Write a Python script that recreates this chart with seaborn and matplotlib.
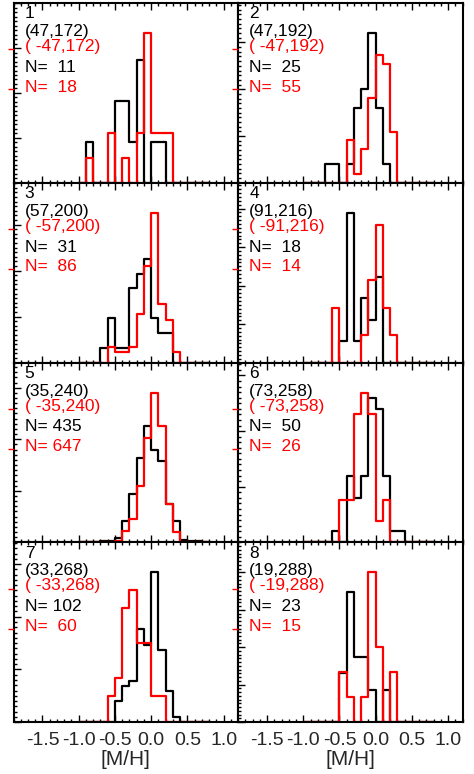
import matplotlib
matplotlib.use("Agg")
import matplotlib.pyplot as plt
import numpy as np
import pandas as pd
import seaborn as sns
from matplotlib.ticker import MultipleLocator

# bin centres of the [M/H] histograms (bin width 0.1 dex)
bin_centers = [-0.95, -0.85, -0.75, -0.65, -0.55, -0.45, -0.35, -0.25, -0.15,
               -0.05, 0.05, 0.15, 0.25, 0.35, 0.45, 0.55, 0.65, 0.75]

panel_ids = ["1", "2", "3", "4", "5", "6", "7", "8"]
coords_black = ["(47,172)", "(47,192)", "(57,200)", "(91,216)",
                "(35,240)", "(73,258)", "(33,268)", "(19,288)"]
coords_red = ["( -47,172)", "( -47,192)", "( -57,200)", "( -91,216)",
              "( -35,240)", "( -73,258)", "( -33,268)", "( -19,288)"]

# counts per bin, black (positive l) and red (negative l) fields
counts_black = [
    [0, 1, 0, 0, 0, 2, 2, 1, 3, 0, 1, 1, 0, 0, 0, 0, 0, 0],
    [0, 0, 0, 1, 1, 0, 1, 4, 5, 8, 4, 1, 0, 0, 0, 0, 0, 0],
    [0, 0, 0, 1, 3, 1, 1, 5, 6, 7, 3, 2, 2, 0, 0, 0, 0, 0],
    [0, 0, 0, 0, 0, 1, 7, 1, 3, 2, 4, 0, 0, 0, 0, 0, 0, 0],
    [0, 0, 0, 1, 1, 4, 18, 41, 71, 98, 78, 69, 32, 18, 2, 1, 1, 0],
    [0, 0, 0, 0, 1, 0, 6, 4, 6, 13, 12, 6, 1, 1, 0, 0, 0, 0],
    [0, 0, 0, 0, 0, 4, 7, 8, 18, 15, 29, 14, 6, 1, 0, 0, 0, 0],
    [0, 0, 0, 0, 0, 3, 8, 4, 4, 2, 0, 2, 0, 0, 0, 0, 0, 0],
]
counts_red = [
    [0, 1, 0, 0, 2, 0, 1, 0, 2, 6, 2, 2, 2, 0, 0, 0, 0, 0],
    [0, 0, 0, 0, 0, 0, 5, 1, 4, 10, 15, 14, 6, 0, 0, 0, 0, 0],
    [0, 0, 0, 0, 3, 2, 2, 3, 9, 18, 28, 11, 8, 2, 0, 0, 0, 0],
    [0, 0, 0, 0, 2, 0, 0, 0, 1, 3, 5, 2, 1, 0, 0, 0, 0, 0],
    [0, 0, 0, 1, 1, 2, 14, 29, 71, 131, 188, 146, 48, 13, 1, 1, 1, 0],
    [0, 0, 0, 0, 0, 2, 2, 6, 7, 6, 1, 2, 0, 0, 0, 0, 0, 0],
    [0, 0, 0, 0, 3, 5, 13, 15, 9, 9, 3, 3, 0, 0, 0, 0, 0, 0],
    [0, 0, 0, 0, 0, 2, 1, 0, 1, 6, 3, 0, 2, 0, 0, 0, 0, 0],
]

xticks = [-1.5, -1.0, -0.5, 0.0, 0.5, 1.0]
xticklabels = ["-1.5", "-1.0", "-0.5", "0.0", "0.5", "1.0"]

sns.set_theme(style="ticks")
plt.rcParams["font.family"] = ["Liberation Sans", "DejaVu Sans"]
plt.rcParams["axes.unicode_minus"] = False

centers = np.array(bin_centers)
edges = list(np.round(np.append(centers - 0.05, centers[-1] + 0.05), 3))

fig, axes = plt.subplots(4, 2, figsize=(4.74, 7.74), dpi=100)
fig.subplots_adjust(left=0.0285, right=0.976, top=0.996, bottom=0.067,
                    wspace=0, hspace=0)


def draw_hist(ax, counts, color):
    c = np.array(counts, dtype=float)
    df = pd.DataFrame({"mh": centers, "frac": c / c.sum()})
    sns.histplot(data=df, x="mh", weights="frac", bins=edges, element="step",
                 fill=False, color=color, linewidth=1.6, ax=ax)
    return df["frac"].max(), int(c.sum())


for i, ax in enumerate(axes.flat):
    mb, nb = draw_hist(ax, counts_black[i], "black")
    mr, nr = draw_hist(ax, counts_red[i], "red")
    ax.set_xlim(-1.9, 1.2)
    ax.set_ylim(0, 1.2 * max(mb, mr))
    ax.set_ylabel("")
    ax.set_xticks(xticks)
    ax.xaxis.set_minor_locator(MultipleLocator(0.1))
    ax.yaxis.set_major_locator(MultipleLocator(0.1))
    ax.yaxis.set_minor_locator(MultipleLocator(0.01))
    ax.tick_params(which="both", direction="in", top=True, right=True,
                   labelleft=False, color="black", width=1.0)
    ax.tick_params(which="major", length=5)
    ax.tick_params(which="minor", length=2.5)
    ax.tick_params(axis="x", which="major", pad=7)
    for sp in ax.spines.values():
        sp.set_linewidth(1.5)
        sp.set_color("black")

    if i >= 6:
        ax.set_xticklabels(xticklabels, fontsize=14)
        ax.set_xlabel("[M/H]", fontsize=15, labelpad=1)
    else:
        ax.tick_params(labelbottom=False)
        ax.set_xlabel("")

    # red tick marks on the outside of the left axis
    tw = ax.twinx()
    tw.set_ylim(0, 1)
    tw.yaxis.tick_left()
    tw.set_yticks([0.52, 0.743])
    tw.tick_params(axis="y", direction="out", length=4, width=1.0,
                   color="red", labelleft=False, labelright=False)
    for sp in tw.spines.values():
        sp.set_visible(False)

    tx = 0.05
    ax.text(tx, 0.915, panel_ids[i], transform=ax.transAxes, fontsize=12.5,
            color="black", va="baseline")
    ax.text(tx, 0.817, coords_black[i], transform=ax.transAxes, fontsize=12.5,
            color="black", va="baseline")
    ax.text(tx, 0.733, coords_red[i], transform=ax.transAxes, fontsize=12.5,
            color="red", va="baseline")
    ax.text(tx, 0.618, "N={:4d}".format(nb), transform=ax.transAxes,
            fontsize=12.5, color="black", va="baseline")
    ax.text(tx, 0.507, "N={:4d}".format(nr), transform=ax.transAxes,
            fontsize=12.5, color="red", va="baseline")

fig.savefig("out.png", dpi=100)
